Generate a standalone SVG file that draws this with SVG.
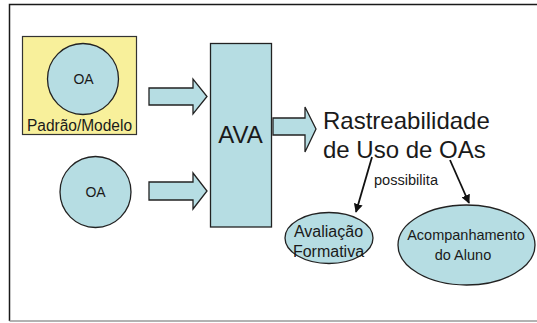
<svg xmlns="http://www.w3.org/2000/svg" width="537" height="323" viewBox="0 0 537 323">
<defs>
<style>
.t{font-family:"Liberation Sans",Arial,sans-serif;fill:#1a1a1a}
.b{fill:#b6dde3;stroke:#222;stroke-width:1.3}
.c{stroke:#111;stroke-width:1.8;fill:none}
</style>
<marker id="ah" viewBox="0 0 10 10" refX="9" refY="5" markerWidth="5" markerHeight="5" orient="auto"><path d="M0,0 L10,5 L0,10 z" fill="#111"/></marker>
</defs>
<rect width="537" height="323" fill="#fff"/>
<path d="M9.5,321 V4.5 H537" fill="none" stroke="#1a1a1a" stroke-width="1.5"/>
<path d="M9.5,321 H537" fill="none" stroke="#999" stroke-width="1.5"/>
<g id="padrao">
<rect x="22.5" y="36.5" width="114" height="98" fill="#f8f09b" stroke="#333" stroke-width="1.2"/>
<circle class="b" cx="83" cy="79" r="35.5"/>
<text class="t" x="83.5" y="84" font-size="14" text-anchor="middle">OA</text>
<text class="t" x="27" y="131" font-size="16" textLength="105" lengthAdjust="spacingAndGlyphs">Padrão/Modelo</text>
</g>
<g id="oa2">
<circle class="b" cx="95.5" cy="192" r="35.5"/>
<text class="t" x="95.5" y="197" font-size="14" text-anchor="middle">OA</text>
</g>
<g id="ava">
<rect class="b" x="210.5" y="43.5" width="61" height="183.5"/>
<text class="t" x="240.5" y="143" font-size="24" text-anchor="middle">AVA</text>
</g>
<g id="rast">
<text class="t" x="323" y="129" font-size="24">Rastreabilidade</text>
<text class="t" x="323" y="158" font-size="24">de Uso de OAs</text>
</g>
<g id="aval">
<ellipse class="b" cx="329" cy="238" rx="44" ry="25.5"/>
<text class="t" x="328.5" y="237" font-size="16" text-anchor="middle">Avaliação</text>
<text class="t" x="328.5" y="257" font-size="16" text-anchor="middle">Formativa</text>
</g>
<g id="acomp">
<ellipse class="b" cx="466.5" cy="245" rx="68.5" ry="40"/>
<text class="t" x="466" y="240" font-size="14.5" text-anchor="middle">Acompanhamento</text>
<text class="t" x="463" y="260" font-size="14.5" text-anchor="middle">do Aluno</text>
</g>
<g id="connectors">
<path class="b" d="M149,88 H193 V79 L207,96.5 L193,114 V105 H149 Z"/>
<path class="b" d="M149,182 H193 V173 L207,191 L193,209 V200 H149 Z"/>
<path class="b" d="M273,118 H305 V107 L316,129 L305,152 V135 H273 Z"/>
<line class="c" x1="372" y1="157" x2="356" y2="212" marker-end="url(#ah)"/>
<line class="c" x1="450" y1="160" x2="469" y2="203" marker-end="url(#ah)"/>
<text class="t" x="374" y="185" font-size="14" textLength="64" lengthAdjust="spacingAndGlyphs">possibilita</text>
</g>
</svg>
